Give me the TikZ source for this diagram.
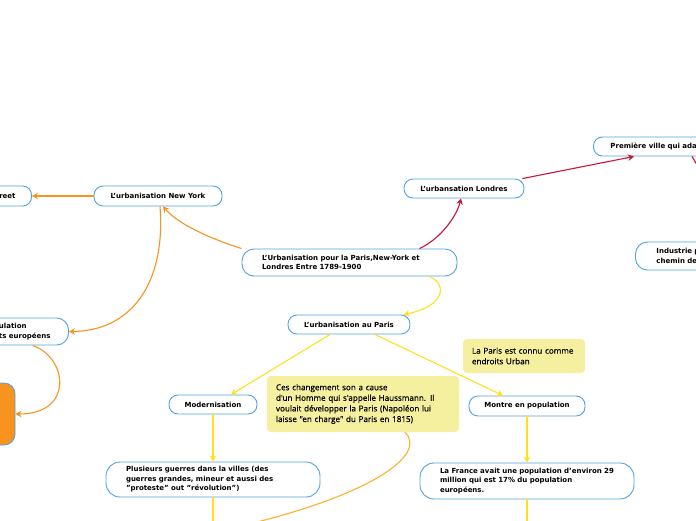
\documentclass[tikz,border=0pt]{standalone}
\usepackage{fontspec}
\setmainfont{DejaVu Sans}
\newfontfamily\notefont[FakeBold=0.5]{Open Sans}
\usetikzlibrary{arrows.meta}

\definecolor{bordure}{HTML}{4FA3E0}
\definecolor{orangeny}{HTML}{F7931E}
\definecolor{rougeldn}{HTML}{C8153A}
\definecolor{jauneps}{HTML}{FFE11A}
\definecolor{dorenote}{HTML}{FBB22A}
\definecolor{fondnote}{HTML}{F5F0A0}

\begin{document}
\begin{tikzpicture}[x=1pt, y=-1pt,
    sujet/.style={draw=bordure, line width=0.9pt, rounded corners=9pt, fill=white,
        font=\fontsize{7}{9.5}\selectfont\bfseries, inner ysep=0pt},
    bloc/.style={sujet, align=left, inner xsep=20pt, rounded corners=12pt},
    note/.style={fill=fondnote, rounded corners=4pt, align=left, inner xsep=9pt,
        inner ysep=0pt, font=\notefont\fontsize{8.1}{10.6}\selectfont},
    lien/.style={line width=1.1pt, -{Stealth[length=6pt,width=6.5pt]}},
  ]
    % Cadre
    \fill[white] (0,0) rectangle (696,520);
    \useasboundingbox (0,0) rectangle (696,520);

    % Sujet central
    \node[bloc, text width=175pt, minimum height=27pt] (centre) at (349.5,262.5)
        {L'Urbanisation pour la Paris,New-York et\\Londres Entre 1789-1900};

    % Branche New York
    \node[sujet, minimum width=128pt, minimum height=20pt] (newyork) at (158,196)
        {L'urbanisation New York};
    \node[sujet, anchor=east, inner xsep=16pt, minimum height=20pt] (street) at (32,196) {reet};
    \node[bloc, anchor=east, inner xsep=18pt, minimum height=27pt] (popny) at (69,331.5)
        {ulation\\ts européens};
    \node[draw=bordure, line width=0.9pt, fill=orangeny, rounded corners=11pt,
        minimum width=50pt, minimum height=62pt] (boite) at (-10,414) {};

    % Branche Londres
    \node[sujet, minimum width=120pt, minimum height=19pt] (londres) at (464,188.5)
        {L'urbansation Londres};
    \node[sujet, anchor=west, align=left, text width=140pt, inner xsep=17pt,
        minimum height=19pt] (premiere) at (593,146.5) {Première ville qui adap};
    \node[bloc, anchor=west, text width=100pt, inner xsep=21pt, minimum height=28pt]
        (industrie) at (635,256) {Industrie p\\chemin de};
    \coordinate (horsdroite) at (712,190);

    % Branche Paris
    \node[sujet, minimum width=122pt, minimum height=19pt] (paris) at (349,324.5)
        {L'urbanisation au Paris};
    \node[sujet, minimum width=88pt, minimum height=19pt] (modern) at (213,404.5)
        {Modernisation};
    \node[sujet, minimum width=116pt, minimum height=20pt] (montre) at (527,406)
        {Montre en population};
    \node[bloc, text width=174pt, minimum height=35pt, rounded corners=14pt] (guerres) at (213,479.5)
        {Plusieurs guerres dans la villes (des\\guerres grandes, mineur et aussi des\\"proteste" out "révolution")};
    \node[bloc, text width=174pt, minimum height=36pt, rounded corners=14pt] (france) at (527,481)
        {La France avait une population d'environ 29\\million qui est 17\% du population\\européens.};
    \coordinate (basgauche) at (213,530);
    \coordinate (basdroite) at (527,530);
    \coordinate (basnote) at (245,525);

    % Notes
    \node[note, text width=104pt, minimum height=34pt] (noteurban) at (524,356)
        {La Paris est connu comme\\endroits Urban};
    \node[note, text width=174pt, minimum height=56pt] (notehauss) at (363,404)
        {Ces changement son a cause\\d'un Homme qui s'appelle Haussmann. Il\\voulait développer la Paris (Napoléon lui\\laisse "en charge" du Paris en 1815)};

    % Liens New York
    \draw[lien, orangeny] (centre.north west) .. controls (215,240) and (180,226) .. ([xshift=5pt]newyork.south);
    \draw[lien, orangeny] ([xshift=2pt]newyork.south) .. controls (166,285) and (130,331) .. (popny.east);
    \draw[lien, orangeny] (newyork.west) -- (street.east);
    \draw[lien, orangeny] ([xshift=8pt]popny.south) .. controls (68,358) and (74,414) .. (boite.east);

    % Liens Londres
    \draw[lien, rougeldn] ([xshift=70pt]centre.north) .. controls (442,238) and (457,215) .. ([xshift=-3pt]londres.south);
    \draw[lien, rougeldn] ([xshift=-2pt]londres.north east) -- ([xshift=41pt]premiere.south west);
    \draw[rougeldn, line width=1.1pt] ([xshift=99pt]premiere.south west) -- (horsdroite);

    % Liens Paris
    \draw[lien, jauneps] ([xshift=80pt]centre.south) .. controls (447,284) and (446,306) .. ([xshift=-7pt]paris.north east);
    \draw[lien, jauneps] ([xshift=-19pt]paris.south) -- ([xshift=18pt]modern.north);
    \draw[lien, jauneps] ([xshift=26pt]paris.south) -- ([xshift=-24pt]montre.north);
    \draw[lien, jauneps] (modern.south) -- (guerres.north);
    \draw[lien, jauneps] (montre.south) -- (france.north);
    \draw[jauneps, line width=1.1pt] (guerres.south) -- (basgauche);
    \draw[jauneps, line width=1.1pt] (france.south) -- (basdroite);
    \draw[dorenote, line width=1.1pt] ([xshift=42pt]notehauss.south) .. controls (428,455) and (370,495) .. (basnote);
\end{tikzpicture}
\end{document}
